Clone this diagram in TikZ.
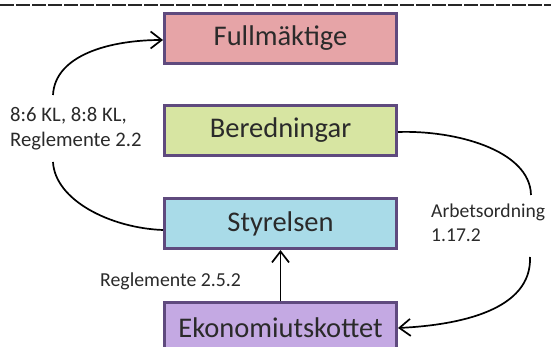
\documentclass[tikz,border=0pt]{standalone}
\usepackage{fontspec}
\setmainfont{Carlito}
\usetikzlibrary{arrows.meta}
\definecolor{boxborder}{HTML}{5F4A7E}
\definecolor{cfull}{HTML}{E6A4A7}
\definecolor{cbered}{HTML}{D7E5A2}
\definecolor{cstyr}{HTML}{A9DBE8}
\definecolor{cekon}{HTML}{C4A9E3}
\definecolor{txt}{HTML}{2A2A2A}
\tikzset{
  orgbox/.style={draw=boxborder, line width=2.6pt, minimum width=232pt, minimum height=50.5pt,
     inner sep=0pt, text=txt, font=\fontsize{28.5}{32}\selectfont},
  lbl/.style={text=txt, font=\fontsize{20.7}{24}\selectfont, inner sep=0pt, anchor=base west},
  conn/.style={line width=1.7pt, black},
  tip/.style={-{Straight Barb[length=11pt, width=17pt, line width=1.7pt]}}
}
\begin{document}
\begin{tikzpicture}[x=1pt,y=1pt]
\useasboundingbox (0,0) rectangle (551,-347);
\clip (0,0) rectangle (551,-347);
\draw[line width=1.8pt, black!85, dash pattern=on 13.5pt off 2.5pt] (0,-5) -- (551,-5);

\node[orgbox, fill=cfull]  (full)  at (280.5,-38.5) {Fullmäktige};
\node[orgbox, fill=cbered] (bered) at (280.5,-130.5) {Beredningar};
\node[orgbox, fill=cstyr]  (styr)  at (280.5,-223.5) {Styrelsen};
\node[orgbox, fill=cekon]  (ekon)  at (280.5,-328) {Ekonomiutskottet};

\node[lbl] (l1a) at (10,-122) {8:6 KL, 8:8 KL,};
\node[lbl] (l1b) at (10,-146.5) {Reglemente 2.2};
\node[lbl, font=\fontsize{19.6}{24}\selectfont] (l2a) at (431,-218) {Arbetsordning};
\node[lbl, font=\fontsize{19.6}{24}\selectfont] (l2b) at (431,-242) {1.17.2};
\node[lbl, font=\fontsize{19.8}{22}\selectfont] (l3) at (100,-287) {Reglemente 2.5.2};

\coordinate (la) at (53,-95);
\coordinate (lb) at (53,-162);
\coordinate (ra) at (531,-195);
\coordinate (rb) at (530,-257);
\coordinate (fw) at (163,-40);
\coordinate (sw) at (163,-230);
\coordinate (be) at (398,-132);
\coordinate (ee) at (398,-328);

\draw[conn, tip] (la) .. controls (55,-55) and (110,-40) .. (fw);
\draw[conn] (lb) .. controls (55,-200) and (110,-228) .. (sw);
\draw[conn] (be) .. controls (455,-130) and (530,-150) .. (ra);
\draw[conn, tip] (rb) .. controls (532,-310) and (460,-325) .. (ee);
\draw[conn, tip] (ekon.north) -- (styr.south);
\end{tikzpicture}
\end{document}
